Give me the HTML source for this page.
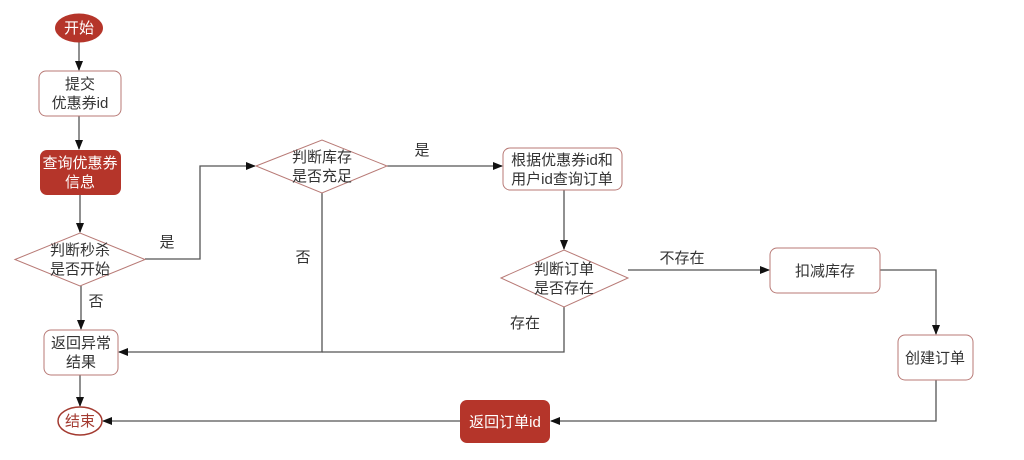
<!DOCTYPE html>
<html><head><meta charset="utf-8"><style>
html,body{margin:0;padding:0;background:#fff;}
svg text{font-family:"Liberation Sans","Noto Sans CJK SC",sans-serif;font-size:15px;fill:#333;text-anchor:middle;}
</style></head><body>
<svg width="1024" height="455" viewBox="0 0 1024 455" xmlns="http://www.w3.org/2000/svg">
<defs><marker id="a" markerWidth="10" markerHeight="10" refX="9" refY="5" orient="auto" markerUnits="userSpaceOnUse"><path d="M0,1 L10,5 L0,9 z" fill="#111"/></marker></defs>
<g stroke="#555" stroke-width="1.3" fill="none">
<line x1="79" y1="42" x2="79" y2="70" marker-end="url(#a)"/>
<line x1="79" y1="116" x2="79" y2="149" marker-end="url(#a)"/>
<line x1="80" y1="195" x2="80" y2="232" marker-end="url(#a)"/>
<line x1="81" y1="286" x2="81" y2="329" marker-end="url(#a)"/>
<line x1="80" y1="375" x2="80" y2="406" marker-end="url(#a)"/>
<polyline points="145,259 200,259 200,166 255,166" marker-end="url(#a)"/>
<polyline points="322,193 322,352 119,352" marker-end="url(#a)"/>
<line x1="387" y1="166" x2="502" y2="166" marker-end="url(#a)"/>
<line x1="564" y1="190" x2="564" y2="249" marker-end="url(#a)"/>
<polyline points="564,307 564,352 322,352"/>
<line x1="628" y1="270" x2="769" y2="270" marker-end="url(#a)"/>
<polyline points="880,270 936,270 936,334" marker-end="url(#a)"/>
<polyline points="936,380 936,421 551,421" marker-end="url(#a)"/>
<line x1="460" y1="421" x2="103" y2="421" marker-end="url(#a)"/>
</g>
<ellipse cx="79" cy="28" rx="24" ry="14.5" fill="#b5352a"/>
<text x="79" y="33" style="fill:#fff">开始</text>
<rect x="39" y="71" width="82" height="45" rx="7" fill="#fff" stroke="#b87a76"/>
<text x="80" y="89">提交</text><text x="80" y="108">优惠券id</text>
<rect x="40" y="150" width="81" height="45" rx="7" fill="#b5352a"/>
<text x="80" y="168" style="fill:#fff">查询优惠券</text><text x="80" y="187" style="fill:#fff">信息</text>
<polygon points="15,259.5 80,233 145,259.5 80,286" fill="#fff" stroke="#b87a76"/>
<text x="80" y="255">判断秒杀</text><text x="80" y="274">是否开始</text>
<rect x="44" y="330" width="74" height="45" rx="7" fill="#fff" stroke="#b87a76"/>
<text x="81" y="348">返回异常</text><text x="81" y="367">结果</text>
<ellipse cx="80" cy="421" rx="22" ry="14" fill="#fff" stroke="#a33a30" stroke-width="1.5"/>
<text x="80" y="426" style="fill:#a33a30">结束</text>
<polygon points="256,166 322,140 387,166 322,193" fill="#fff" stroke="#b87a76"/>
<text x="322" y="162">判断库存</text><text x="322" y="181">是否充足</text>
<rect x="503" y="148" width="119" height="42" rx="7" fill="#fff" stroke="#b87a76"/>
<text x="562" y="165">根据优惠券id和</text><text x="562" y="184">用户id查询订单</text>
<polygon points="501,278 564,250 628,278 564,307" fill="#fff" stroke="#b87a76"/>
<text x="564" y="274">判断订单</text><text x="564" y="293">是否存在</text>
<rect x="770" y="248" width="110" height="45" rx="7" fill="#fff" stroke="#b87a76"/>
<text x="825" y="276">扣减库存</text>
<rect x="898" y="335" width="75" height="45" rx="7" fill="#fff" stroke="#b87a76"/>
<text x="935" y="363">创建订单</text>
<rect x="460" y="400" width="90" height="43" rx="7" fill="#b5352a"/>
<text x="505" y="427" style="fill:#fff">返回订单id</text>
<text x="167" y="247">是</text>
<text x="96" y="306">否</text>
<text x="303" y="262">否</text>
<text x="422" y="155">是</text>
<text x="682" y="263">不存在</text>
<text x="525" y="328">存在</text>
</svg>
</body></html>
